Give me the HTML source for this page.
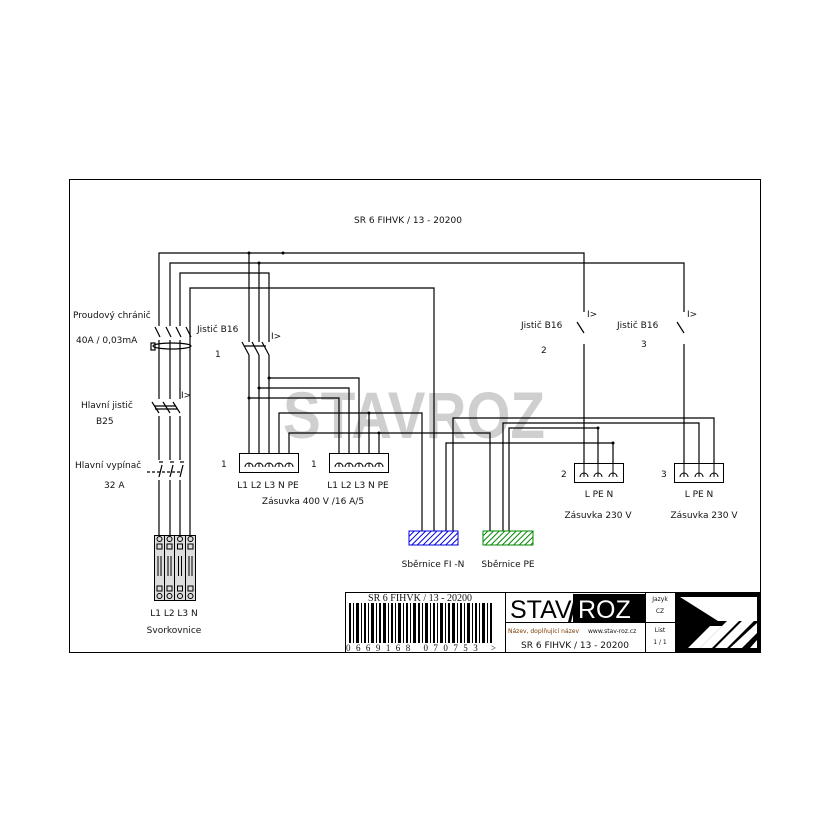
<!DOCTYPE html>
<html><head><meta charset="utf-8"><style>
body{margin:0;background:#fff}
svg{display:block}
text{font-family:"DejaVu Sans","Liberation Sans",sans-serif;font-size:9px;fill:#111}
</style></head><body>
<svg width="830" height="830" viewBox="0 0 830 830" xmlns="http://www.w3.org/2000/svg">
<defs>
<pattern id="hb" width="4" height="4" patternUnits="userSpaceOnUse" patternTransform="rotate(45)"><rect width="4" height="4" fill="#fff"/><line x1="0" y1="0" x2="0" y2="4" stroke="#0000dd" stroke-width="2"/></pattern>
<pattern id="hg" width="4" height="4" patternUnits="userSpaceOnUse" patternTransform="rotate(45)"><rect width="4" height="4" fill="#fff"/><line x1="0" y1="0" x2="0" y2="4" stroke="#008800" stroke-width="2"/></pattern>
</defs>
<rect x="69.5" y="179.5" width="691" height="473" fill="none" stroke="#000" stroke-width="1"/>
<text x="408" y="223" text-anchor="middle">SR 6 FIHVK / 13 - 20200</text>
<text x="414" y="438" text-anchor="middle" textLength="262" lengthAdjust="spacingAndGlyphs" style="font-size:66px;font-weight:bold;fill:#cfcfcf;font-family:'Liberation Sans',sans-serif">STAVROZ</text>
<g fill="none" stroke="#000" stroke-width="1.2">
<polyline points="159,326 159,253 584,253 584,312"/>
<polyline points="170,326 170,263 684,263 684,312"/>
<polyline points="180,326 180,273 269,273 269,342"/>
<polyline points="190,326 190,288 434,288 434,531"/>
<line x1="249" y1="253" x2="249" y2="342"/>
<line x1="259" y1="263" x2="259" y2="342"/>
<line x1="249" y1="355" x2="249" y2="463"/>
<line x1="259" y1="355" x2="259" y2="463"/>
<line x1="269" y1="355" x2="269" y2="463"/>
<line x1="242" y1="342" x2="249" y2="355"/><line x1="252" y1="342" x2="259" y2="355"/><line x1="262" y1="342" x2="269" y2="355"/>
<line x1="244" y1="346" x2="266" y2="346"/>
<polyline points="269,378 359,378 359,463"/>
<polyline points="259,388 349,388 349,463"/>
<polyline points="249,398 339,398 339,463"/>
<polyline points="279,463 279,413 422,413 422,531"/>
<line x1="369" y1="413" x2="369" y2="463"/>
<polyline points="289,463 289,433 490,433 490,531"/>
<line x1="379" y1="433" x2="379" y2="463"/>
<polyline points="453,531 453,418 714,418 714,463"/>
<polyline points="503,531 503,423 699,423 699,463"/>
<polyline points="509,531 509,428 598,428 598,463"/>
<polyline points="446,531 446,443 613,443 613,463"/>
<line x1="577" y1="322" x2="584" y2="333"/><line x1="584" y1="344" x2="584" y2="463"/>
<line x1="677" y1="322" x2="684" y2="333"/><line x1="684" y1="344" x2="684" y2="463"/>
<line x1="190" y1="326" x2="190" y2="540"/>
<line x1="159" y1="340" x2="159" y2="399"/><line x1="170" y1="340" x2="170" y2="399"/><line x1="180" y1="340" x2="180" y2="399"/>
<line x1="155" y1="327" x2="160" y2="337"/><line x1="166" y1="327" x2="171" y2="337"/><line x1="176" y1="327" x2="181" y2="337"/><line x1="186" y1="327" x2="191" y2="337"/>
<ellipse cx="172" cy="346" rx="19" ry="3"/>
<rect x="151" y="343" width="4" height="7"/>
<line x1="152" y1="402" x2="159" y2="413"/><line x1="163" y1="402" x2="170" y2="413"/><line x1="173" y1="402" x2="180" y2="413"/>
<line x1="154" y1="406" x2="176" y2="406"/><line x1="155" y1="409" x2="177" y2="409"/>
<line x1="159" y1="416" x2="159" y2="460"/><line x1="170" y1="416" x2="170" y2="460"/><line x1="180" y1="416" x2="180" y2="460"/>
<line x1="159" y1="462" x2="163" y2="462"/><line x1="170" y1="462" x2="174" y2="462"/><line x1="180" y1="462" x2="184" y2="462"/>
<line x1="162" y1="465" x2="159" y2="477"/><line x1="173" y1="465" x2="170" y2="477"/><line x1="183" y1="465" x2="180" y2="477"/>
<line x1="147" y1="472" x2="180" y2="472" stroke-dasharray="3,2"/>
<line x1="159" y1="480" x2="159" y2="540"/><line x1="170" y1="480" x2="170" y2="540"/><line x1="180" y1="480" x2="180" y2="540"/>
</g>
<g fill="#000">
<circle cx="249" cy="253" r="1.5"/><circle cx="259" cy="263" r="1.5"/><circle cx="283" cy="253" r="1.5"/>
<circle cx="269" cy="378" r="1.5"/><circle cx="259" cy="388" r="1.5"/><circle cx="249" cy="398" r="1.5"/>
<circle cx="369" cy="413" r="1.5"/><circle cx="379" cy="433" r="1.5"/><circle cx="598" cy="428" r="1.5"/><circle cx="613" cy="443" r="1.5"/>
</g>
<g style="font-size:6px">
<text x="271" y="339">I&gt;</text><text x="181" y="398">I&gt;</text><text x="587" y="317">I&gt;</text><text x="687" y="317">I&gt;</text>
</g>
<g fill="#fff" stroke="#000" stroke-width="1">
<rect x="239.5" y="453.5" width="59" height="19"/>
<rect x="329.5" y="453.5" width="59" height="19"/>
<rect x="574.5" y="463.5" width="49" height="19"/>
<rect x="674.5" y="463.5" width="49" height="19"/>
</g>
<g fill="none" stroke="#000" stroke-width="1">
<path d="M245,467 a4,4 0 0 1 8,0 M255,467 a4,4 0 0 1 8,0 M265,467 a4,4 0 0 1 8,0 M275,467 a4,4 0 0 1 8,0 M285,467 a4,4 0 0 1 8,0"/>
<path d="M335,467 a4,4 0 0 1 8,0 M345,467 a4,4 0 0 1 8,0 M355,467 a4,4 0 0 1 8,0 M365,467 a4,4 0 0 1 8,0 M375,467 a4,4 0 0 1 8,0"/>
<path d="M580,477 a4,4 0 0 1 8,0 M594,477 a4,4 0 0 1 8,0 M609,477 a4,4 0 0 1 8,0"/>
<path d="M680,477 a4,4 0 0 1 8,0 M695,477 a4,4 0 0 1 8,0 M710,477 a4,4 0 0 1 8,0"/>
<line x1="249" y1="463" x2="249" y2="467"/><line x1="259" y1="463" x2="259" y2="467"/><line x1="269" y1="463" x2="269" y2="467"/><line x1="279" y1="463" x2="279" y2="467"/><line x1="289" y1="463" x2="289" y2="467"/>
<line x1="339" y1="463" x2="339" y2="467"/><line x1="349" y1="463" x2="349" y2="467"/><line x1="359" y1="463" x2="359" y2="467"/><line x1="369" y1="463" x2="369" y2="467"/><line x1="379" y1="463" x2="379" y2="467"/>
<line x1="584" y1="463" x2="584" y2="477"/><line x1="598" y1="463" x2="598" y2="477"/><line x1="613" y1="463" x2="613" y2="477"/>
<line x1="684" y1="463" x2="684" y2="477"/><line x1="699" y1="463" x2="699" y2="477"/><line x1="714" y1="463" x2="714" y2="477"/>
</g>
<rect x="409" y="531" width="49" height="14" fill="url(#hb)" stroke="#0000dd"/>
<rect x="483" y="531" width="50" height="14" fill="url(#hg)" stroke="#008800"/>
<g stroke="#000" stroke-width="1">
<rect x="154.5" y="535.5" width="41" height="65" fill="#ddd"/>
<line x1="164.5" y1="536" x2="164.5" y2="600"/><line x1="174.5" y1="536" x2="174.5" y2="600"/><line x1="185.5" y1="536" x2="185.5" y2="600"/>
<g fill="none">
<circle cx="159.5" cy="539" r="2.5"/><circle cx="169.5" cy="539" r="2.5"/><circle cx="180" cy="539" r="2.5"/><circle cx="190.5" cy="539" r="2.5"/>
<rect x="157" y="544" width="5" height="5"/><rect x="167" y="544" width="5" height="5"/><rect x="177.5" y="544" width="5" height="5"/><rect x="188" y="544" width="5" height="5"/>
<rect x="157" y="586" width="5" height="5"/><rect x="167" y="586" width="5" height="5"/><rect x="177.5" y="586" width="5" height="5"/><rect x="188" y="586" width="5" height="5"/>
<circle cx="159.5" cy="596" r="2.5"/><circle cx="169.5" cy="596" r="2.5"/><circle cx="180" cy="596" r="2.5"/><circle cx="190.5" cy="596" r="2.5"/>
<path d="M158,556v20M161,556v20M168,556v20M171,556v20M178.5,556v20M181.5,556v20M189,556v20M192,556v20"/>
</g></g>
<text x="73" y="318">Proudový chránič</text>
<text x="76" y="343">40A / 0,03mA</text>
<text x="81" y="408">Hlavní jistič</text>
<text x="96" y="424">B25</text>
<text x="75" y="468">Hlavní vypínač</text>
<text x="104" y="488">32 A</text>
<text x="174" y="616" text-anchor="middle">L1 L2 L3 N</text>
<text x="174" y="633" text-anchor="middle">Svorkovnice</text>
<text x="197" y="332">Jistič B16</text>
<text x="215" y="357">1</text>
<text x="221" y="467">1</text><text x="311" y="467">1</text>
<text x="268" y="488" text-anchor="middle">L1 L2 L3 N PE</text>
<text x="358" y="488" text-anchor="middle">L1 L2 L3 N PE</text>
<text x="313" y="504" text-anchor="middle">Zásuvka 400 V /16 A/5</text>
<text x="521" y="328">Jistič B16</text><text x="541" y="353">2</text>
<text x="617" y="328">Jistič B16</text><text x="641" y="347">3</text>
<text x="561" y="477">2</text><text x="661" y="477">3</text>
<text x="599" y="497" text-anchor="middle">L  PE  N</text>
<text x="699" y="497" text-anchor="middle">L  PE  N</text>
<text x="598" y="518" text-anchor="middle">Zásuvka 230 V</text>
<text x="704" y="518" text-anchor="middle">Zásuvka 230 V</text>
<text x="433" y="567" text-anchor="middle">Sběrnice FI -N</text>
<text x="508" y="567" text-anchor="middle">Sběrnice PE</text>
<rect x="345.5" y="592.5" width="415" height="60" fill="#fff" stroke="#000"/>
<line x1="505.5" y1="593" x2="505.5" y2="652" stroke="#000"/>
<line x1="645.5" y1="593" x2="645.5" y2="652" stroke="#000"/>
<line x1="675.5" y1="593" x2="675.5" y2="652" stroke="#000"/>
<line x1="505" y1="622.5" x2="675" y2="622.5" stroke="#000"/>
<text x="420" y="601" text-anchor="middle" style="font-family:'Liberation Serif',serif;font-size:10px">SR 6 FIHVK / 13 - 20200</text>
<g fill="#000">
<rect x="349" y="603" width="2" height="40"/><rect x="353" y="603" width="1" height="40"/><rect x="356" y="603" width="3" height="40"/><rect x="361" y="603" width="1" height="40"/><rect x="364" y="603" width="2" height="40"/><rect x="368" y="603" width="1" height="40"/><rect x="371" y="603" width="3" height="40"/><rect x="376" y="603" width="1" height="40"/><rect x="379" y="603" width="2" height="40"/><rect x="383" y="603" width="3" height="40"/><rect x="388" y="603" width="1" height="40"/><rect x="391" y="603" width="2" height="40"/><rect x="395" y="603" width="1" height="40"/><rect x="398" y="603" width="3" height="40"/><rect x="403" y="603" width="1" height="40"/><rect x="406" y="603" width="2" height="40"/><rect x="410" y="603" width="1" height="40"/><rect x="413" y="603" width="3" height="40"/><rect x="418" y="603" width="2" height="40"/><rect x="422" y="603" width="1" height="40"/><rect x="425" y="603" width="3" height="40"/><rect x="430" y="603" width="1" height="40"/><rect x="433" y="603" width="2" height="40"/><rect x="437" y="603" width="1" height="40"/><rect x="440" y="603" width="3" height="40"/><rect x="445" y="603" width="1" height="40"/><rect x="448" y="603" width="2" height="40"/><rect x="452" y="603" width="3" height="40"/><rect x="457" y="603" width="1" height="40"/><rect x="460" y="603" width="2" height="40"/><rect x="464" y="603" width="1" height="40"/><rect x="467" y="603" width="3" height="40"/><rect x="472" y="603" width="1" height="40"/><rect x="475" y="603" width="2" height="40"/><rect x="479" y="603" width="1" height="40"/><rect x="482" y="603" width="3" height="40"/><rect x="487" y="603" width="1" height="40"/><rect x="490" y="603" width="2" height="40"/>
</g>
<text x="346" y="651" textLength="150" lengthAdjust="spacing" style="font-family:'Liberation Serif',serif;font-size:9px">0669168 070753 &gt;</text>
<rect x="573" y="594" width="72" height="28" fill="#000"/>
<polygon points="568,622 575,594 578,594 571,622" fill="#000"/>
<text x="510" y="618" style="font-family:'Liberation Sans',sans-serif;font-size:25px;fill:#000">STAV</text>
<text x="578" y="618" style="font-family:'Liberation Sans',sans-serif;font-size:25px;fill:#fff">ROZ</text>
<text x="508" y="633" style="font-size:6px;fill:#7a3a00">Název, doplňující název</text>
<text x="588" y="633" style="font-size:6px">www.stav-roz.cz</text>
<text x="575" y="648" text-anchor="middle" style="font-size:9px">SR 6 FIHVK / 13 - 20200</text>
<text x="660" y="601" text-anchor="middle" style="font-size:6px">Jazyk</text>
<text x="660" y="613" text-anchor="middle" style="font-size:6px">CZ</text>
<text x="660" y="632" text-anchor="middle" style="font-size:6px">List</text>
<text x="660" y="644" text-anchor="middle" style="font-size:6px">1 / 1</text>
<rect x="676" y="593" width="85" height="60" fill="#000"/>
<polygon points="680,597 757,597 757,621 718,621" fill="#fff"/>
<g fill="#fff">
<polygon points="710,626 722,626 700,648 688,648"/>
<polygon points="727,621 739,621 712,648 700,648"/>
<polygon points="742,621 754,621 727,648 715,648"/>
<polygon points="757,623 757,633 742,648 730,648"/>
<polygon points="757,640 757,648 750,648"/>
</g>
</svg>
</body></html>
